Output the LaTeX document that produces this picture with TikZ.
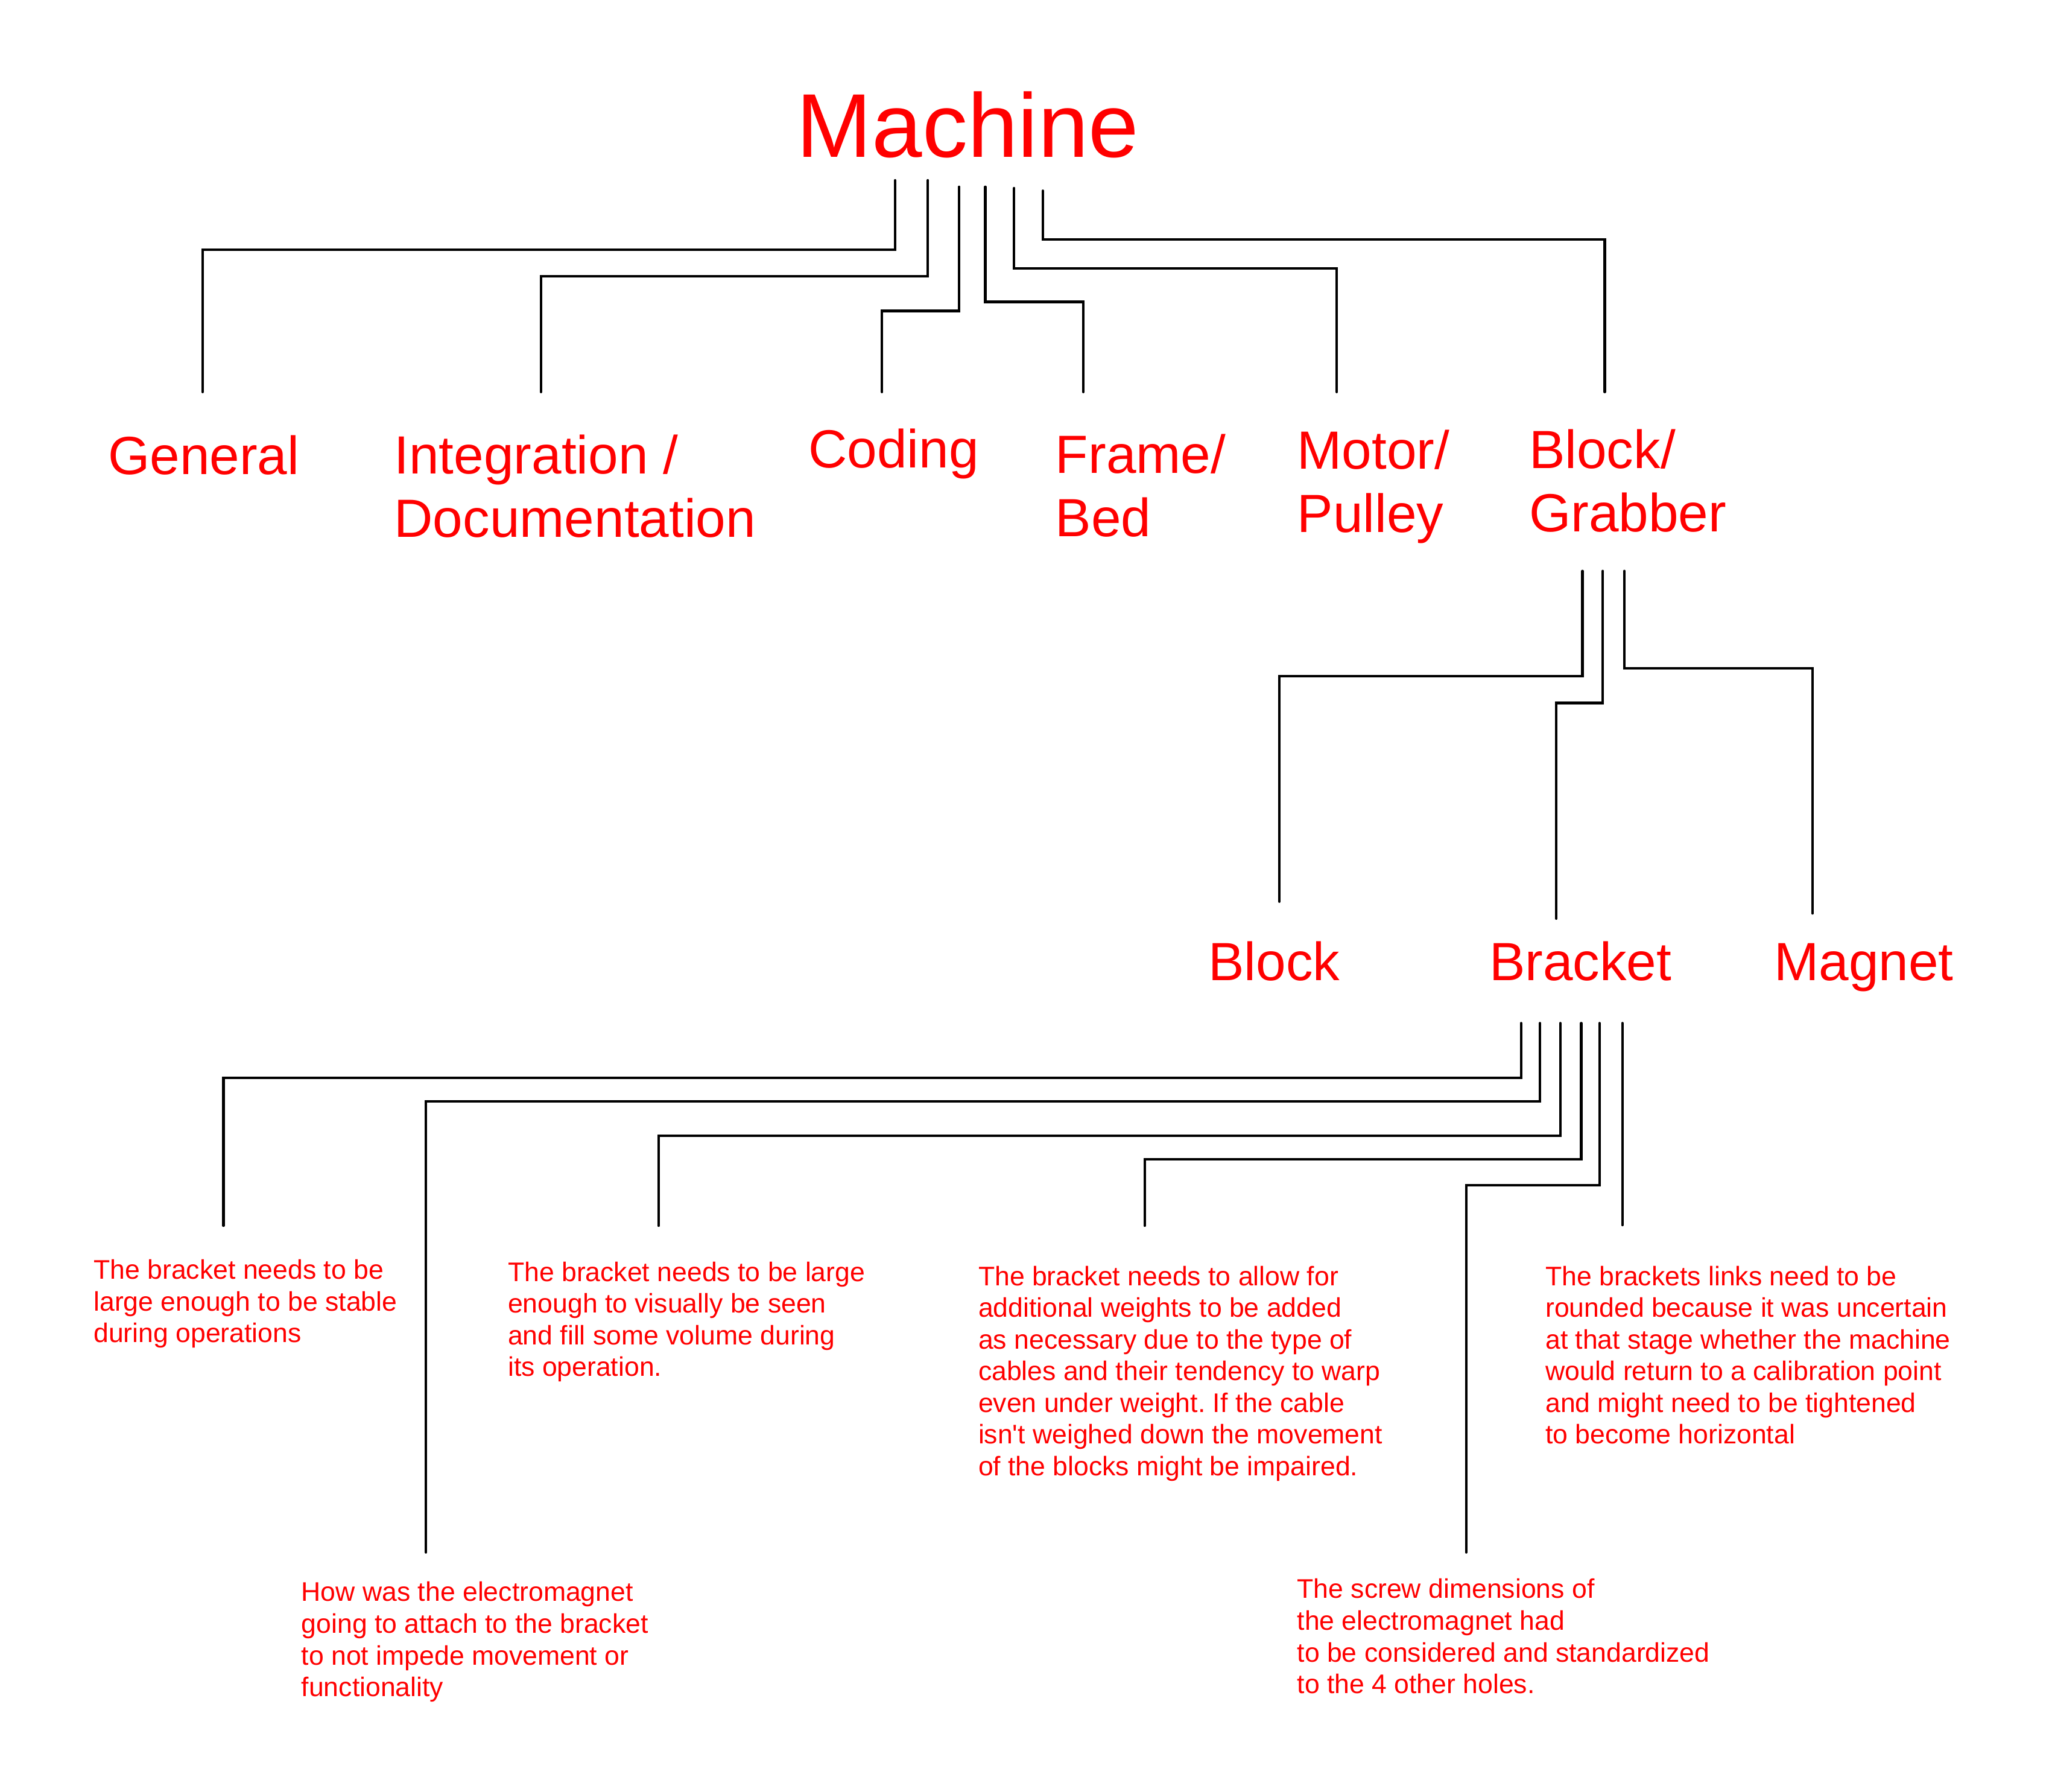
\documentclass[tikz,border=0pt]{standalone}
\usepackage{fontspec}
\setmainfont{Liberation Sans}[Ligatures=TeXOff]
\usepackage{tikz}
\definecolor{labelred}{RGB}{255,0,0}
\frenchspacing

\begin{document}
\begin{tikzpicture}[
        x=0.01cm, y=-0.01cm,
        title/.style={text=labelred, inner sep=0pt, anchor=base west, font=\fontsize{19.7pt}{23pt}\selectfont},
        part/.style={text=labelred, inner sep=0pt, anchor=base west, align=left, font=\fontsize{11.7pt}{13.8pt}\selectfont},
        note/.style={text=labelred, inner sep=0pt, anchor=base west, align=left, font=\fontsize{5.85pt}{6.9pt}\selectfont},
        wire/.style={line width=0.55pt, line cap=round},
    ]
    \useasboundingbox (0,0) rectangle (1568,1371);

    % Top (nodes sit on the baseline of their last line)
    \node[title] (machine) at (609,120.3) {Machine};

    % Parts
    \node[part] (general) at (82,363) {General};
    \node[part] (integ) at (301,411) {Integration /\\Documentation};
    \node[part] (coding) at (618,358) {Coding};
    \node[part] (frame) at (807,410.5) {Frame/\\Bed};
    \node[part] (motor) at (992,407.5) {Motor/\\Pulley};
    \node[part] (grabber) at (1169.5,407) {Block/\\Grabber};

    % Grabber parts
    \node[part] (block) at (924,750.5) {Block};
    \node[part] (bracket) at (1139,750.5) {Bracket};
    \node[part] (magnet) at (1357,750.5) {Magnet};

    % Bracket notes
    \node[note] (stable) at (71,1027.5) {The bracket needs to be\\large enough to be stable\\during operations};
    \node[note] (attach) at (230,1298.3) {How was the electromagnet\\going to attach to the bracket\\to not impede movement or\\functionality};
    \node[note] (seen) at (388,1053.3) {The bracket needs to be large\\enough to visually be seen\\and fill some volume during\\its operation.};
    \node[note] (weights) at (748,1129.3) {The bracket needs to allow for\\additional weights to be added\\as necessary due to the type of\\cables and their tendency to warp\\even under weight. If the cable\\isn't weighed down the movement\\of the blocks might be impaired.};
    \node[note] (screws) at (992,1296) {The screw dimensions of\\the electromagnet had\\to be considered and standardized\\to the 4 other holes.};
    \node[note] (links) at (1182,1105) {The brackets links need to be\\rounded because it was uncertain\\at that stage whether the machine\\would return to a calibration point\\and might need to be tightened\\to become horizontal};

    % Wire ends under Machine and above the parts
    \coordinate (mach-a) at (685,138);
    \coordinate (mach-b) at (710,138);
    \coordinate (mach-c) at (734,143);
    \coordinate (mach-d) at (754,143);
    \coordinate (mach-e) at (776,144);
    \coordinate (mach-f) at (798,146);
    \coordinate (general-in) at (155,300);
    \coordinate (integ-in) at (414,300);
    \coordinate (coding-in) at (675,300);
    \coordinate (frame-in) at (829,300);
    \coordinate (motor-in) at (1023,300);
    \coordinate (grabber-in) at (1228,300);

    % Wire ends under Block/Grabber
    \coordinate (grab-a) at (1211,437);
    \coordinate (grab-b) at (1226.5,437);
    \coordinate (grab-c) at (1243,437);
    \coordinate (block-in) at (979,690);
    \coordinate (bracket-in) at (1191,703);
    \coordinate (magnet-in) at (1387,699);

    % Wire ends under Bracket
    \coordinate (brk-a) at (1164,783);
    \coordinate (brk-b) at (1178.5,783);
    \coordinate (brk-c) at (1194,783);
    \coordinate (brk-d) at (1210,783);
    \coordinate (brk-e) at (1224,783);
    \coordinate (brk-f) at (1241.5,783);
    \coordinate (stable-in) at (171,938);
    \coordinate (attach-in) at (326,1188);
    \coordinate (seen-in) at (504,938);
    \coordinate (weights-in) at (876,938);
    \coordinate (screws-in) at (1122,1188);
    \coordinate (links-in) at (1241.5,937.5);

    % Machine -> parts
    \draw[wire] (mach-a) -- ++(0,53) -| (general-in);
    \draw[wire] (mach-b) -- ++(0,73.5) -| (integ-in);
    \draw[wire] (mach-c) -- ++(0,95) -| (coding-in);
    \draw[wire] (mach-d) -- ++(0,88) -| (frame-in);
    \draw[wire] (mach-e) -- ++(0,61.5) -| (motor-in);
    \draw[wire] (mach-f) -- ++(0,37.4) -| (grabber-in);

    % Block/Grabber -> parts
    \draw[wire] (grab-a) -- ++(0,80.5) -| (block-in);
    \draw[wire] (grab-b) -- ++(0,101) -| (bracket-in);
    \draw[wire] (grab-c) -- ++(0,74.4) -| (magnet-in);

    % Bracket -> notes
    \draw[wire] (brk-a) -- ++(0,42) -| (stable-in);
    \draw[wire] (brk-b) -- ++(0,60) -| (attach-in);
    \draw[wire] (brk-c) -- ++(0,86) -| (seen-in);
    \draw[wire] (brk-d) -- ++(0,104) -| (weights-in);
    \draw[wire] (brk-e) -- ++(0,124) -| (screws-in);
    \draw[wire] (brk-f) -- (links-in);
\end{tikzpicture}
\end{document}
